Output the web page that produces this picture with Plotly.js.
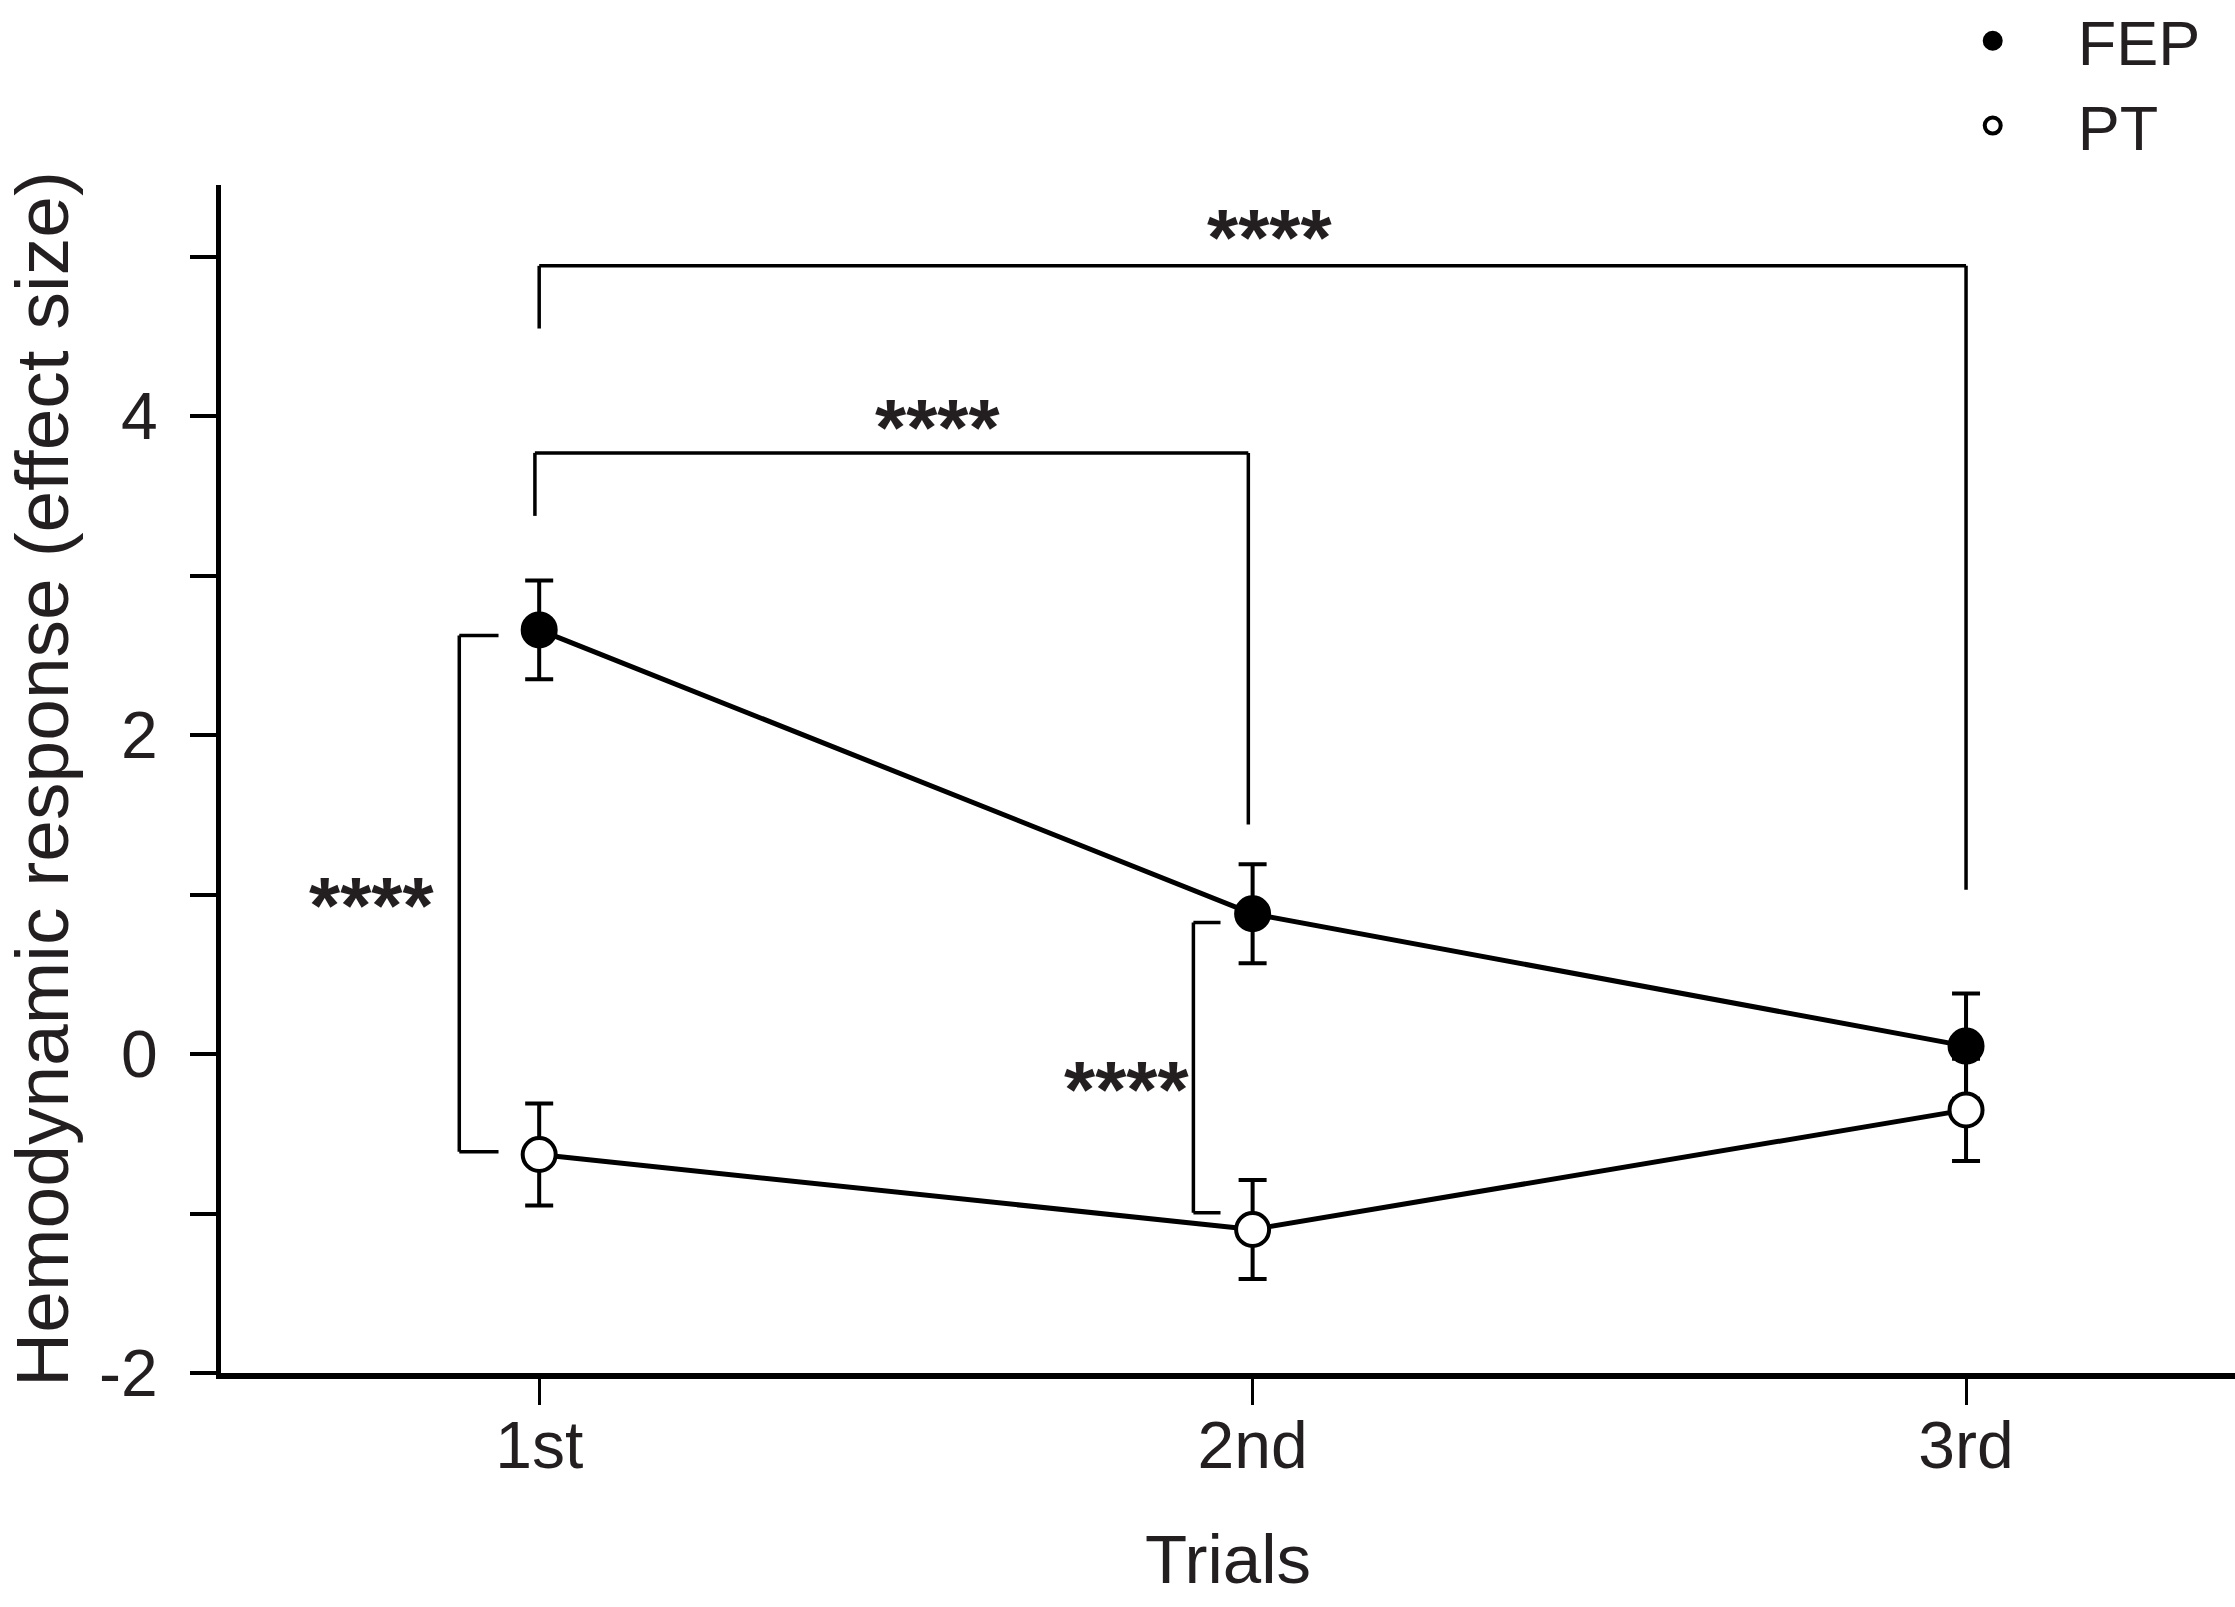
<!DOCTYPE html>
<html>
<head>
<meta charset="utf-8">
<script src="https://cdn.plot.ly/plotly-3.0.1.min.js"></script>
<style>
  html, body { margin: 0; padding: 0; background: #ffffff; }
  #chart { width: 2235px; height: 1607px; }
</style>
</head>
<body>
<div id="chart"></div>
<script>
// ---- data ----
var trials = ['1st', '2nd', '3rd'];
var fepMean = [2.66, 0.88, 0.05];
var fepErr  = [0.31, 0.31, 0.33];
var ptMean  = [-0.63, -1.10, -0.35];
var ptErr   = [0.32, 0.31, 0.32];
var seriesNames = ['FEP', 'PT'];
var yTickVals = [-2, -1, 0, 1, 2, 3, 4, 5];
var yTickText = ['-2', '', '0', '', '2', '', '4', ''];
var sigLabel = '****';

var FONT = 'Liberation Sans, Arial, Helvetica, sans-serif';
var INK = '#231f20';

function lineTrace(y) {
  return { type: 'scatter', mode: 'lines', x: trials, y: y, showlegend: false,
           hoverinfo: 'skip', line: { color: '#000', width: 5 } };
}
function markerTrace(name, y, err, fill) {
  return {
    type: 'scatter', mode: 'markers', name: name,
    x: trials, y: y,
    error_y: { type: 'data', array: err, visible: true, color: '#000', thickness: 4, width: 14 },
    marker: { symbol: 'circle', size: 33, color: fill, line: { color: '#000', width: 4 } }
  };
}

var traces = [
  lineTrace(fepMean),
  lineTrace(ptMean),
  markerTrace(seriesNames[0], fepMean, fepErr, '#000'),
  markerTrace(seriesNames[1], ptMean, ptErr, '#fff')
];

function seg(x0, y0, x1, y1) {
  return { type: 'line', xref: 'x', yref: 'y', x0: x0, y0: y0, x1: x1, y1: y1,
           line: { color: '#000', width: 3.5 } };
}

var shapes = [
  // 1st vs 3rd (FEP)
  seg(0, 4.55, 0, 4.943), seg(0, 4.943, 2, 4.943), seg(2, 4.943, 2, 1.03),
  // 1st vs 2nd (FEP)
  seg(-0.006, 3.375, -0.006, 3.77), seg(-0.006, 3.77, 0.994, 3.77), seg(0.994, 3.77, 0.994, 1.44),
  // FEP vs PT at 1st
  seg(-0.057, 2.625, -0.112, 2.625), seg(-0.112, 2.625, -0.112, -0.613), seg(-0.112, -0.613, -0.057, -0.613),
  // FEP vs PT at 2nd
  seg(0.955, 0.825, 0.917, 0.825), seg(0.917, 0.825, 0.917, -0.995), seg(0.917, -0.995, 0.955, -0.995)
];

function star(x, y) {
  return { xref: 'x', yref: 'y', x: x, y: y, text: sigLabel, showarrow: false,
           xanchor: 'center', yanchor: 'middle',
           font: { family: FONT, size: 80, weight: 'bold', color: INK } };
}

var annotations = [
  star(1.023, 5.12),
  star(0.559, 3.93),
  star(-0.235, 0.93),
  star(0.823, -0.22)
];

var layout = {
  width: 2235, height: 1607,
  paper_bgcolor: '#fff', plot_bgcolor: '#fff',
  margin: { l: 221, r: 0, t: 185, b: 234, pad: 0, autoexpand: false },
  font: { family: FONT, color: INK, size: 66 },
  showlegend: true,
  legend: {
    x: 0.8375, xanchor: 'left', y: 1.1614, yanchor: 'top',
    bgcolor: 'rgba(0,0,0,0)', borderwidth: 0,
    itemwidth: 160,
    font: { family: FONT, size: 63, color: INK }
  },
  xaxis: {
    type: 'category',
    range: [-0.446, 2.377],
    showline: true, linecolor: '#000', linewidth: 6,
    ticks: 'outside', ticklen: 26, tickwidth: 3, tickcolor: '#000',
    showgrid: false, zeroline: false,
    tickfont: { family: FONT, size: 66, color: INK },
    ticklabelstandoff: -16,
    title: { text: 'Trials', standoff: 55, font: { family: FONT, size: 69, color: INK } }
  },
  yaxis: {
    range: [-2, 5.45],
    tickmode: 'array', tickvals: yTickVals, ticktext: yTickText,
    showline: true, linecolor: '#000', linewidth: 5,
    ticks: 'outside', ticklen: 26, tickwidth: 4, tickcolor: '#000',
    showgrid: false, zeroline: false,
    tickfont: { family: FONT, size: 66, color: INK },
    ticklabelstandoff: 19,
    title: { text: 'Hemodynamic response (effect size)', standoff: 30, font: { family: FONT, size: 75, color: INK } }
  },
  shapes: shapes,
  annotations: annotations
};

Plotly.newPlot('chart', traces, layout, { staticPlot: true, displayModeBar: false });
</script>
</body>
</html>
